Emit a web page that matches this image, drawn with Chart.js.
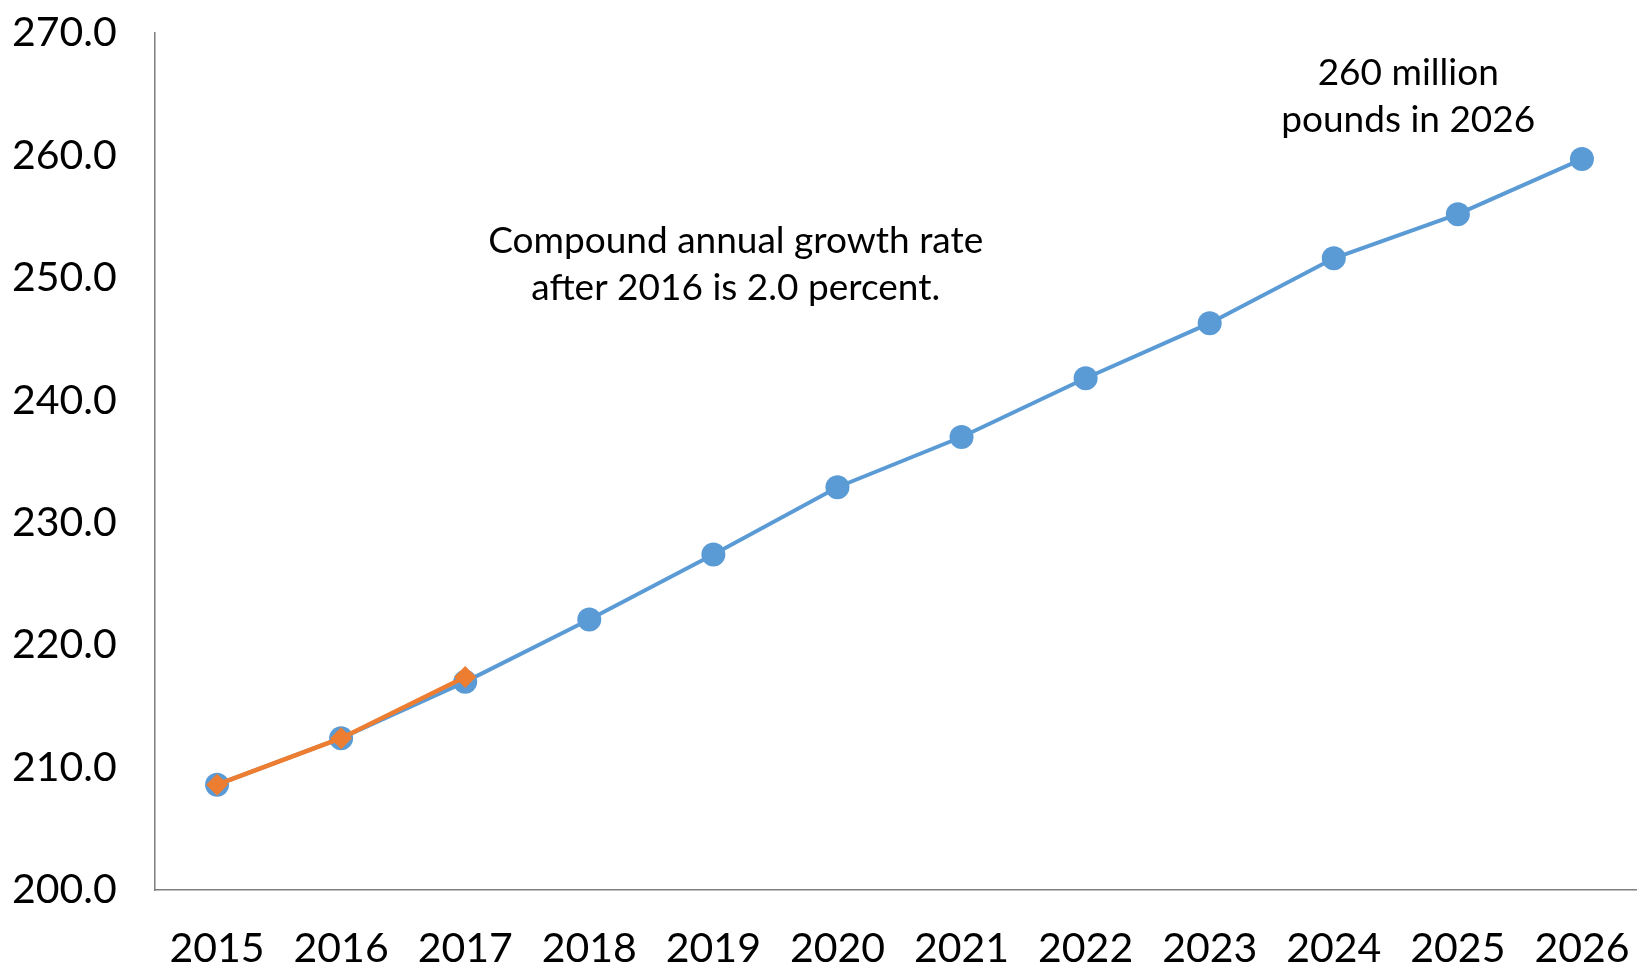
<!DOCTYPE html>
<html>
<head>
<meta charset="utf-8">
<script src="https://cdn.jsdelivr.net/npm/chart.js@4/dist/chart.umd.min.js"></script>
<style>
  html, body { margin: 0; padding: 0; background: #fff; overflow: hidden; }
  #wrap { width: 1664px; height: 966px; position: relative; }
</style>
</head>
<body>
<div id="wrap"><canvas id="chart"></canvas></div>
<script>
var years = ['2015', '2016', '2017', '2018', '2019', '2020', '2021', '2022', '2023', '2024', '2025', '2026'];
var projected = [208.6, 212.4, 217.0, 222.1, 227.4, 232.9, 237.0, 241.8, 246.3, 251.6, 255.2, 259.7];
var actual = [208.6, 212.4, 217.4, null, null, null, null, null, null, null, null, null];
var yMin = 200, yMax = 270, yStep = 10;

// notes placed in data units (x = category index, y = value at the text centre)
var notes = [
    { x: 4.18, y: 251.1, lines: ['Compound annual growth rate', 'after 2016 is 2.0 percent.'] },
    { x: 9.6, y: 264.8, lines: ['260 million', 'pounds in 2026'] }
];

var notesPlugin = {
    id: 'notes',
    afterDraw: function (chart) {
        var ctx = chart.ctx;
        var xs = chart.scales.x, ys = chart.scales.y;
        ctx.save();
        ctx.font = '37px Lato';
        ctx.fillStyle = '#000';
        ctx.textAlign = 'center';
        ctx.textBaseline = 'middle';
        notes.forEach(function (n) {
            var cx = xs.getPixelForValue(n.x);
            var cy = ys.getPixelForValue(n.y);
            var lh = 47;
            var top = cy - (n.lines.length - 1) * lh / 2;
            n.lines.forEach(function (t, i) {
                ctx.fillText(t, cx, top + i * lh);
            });
        });
        ctx.restore();
    }
};

var chart = new Chart(document.getElementById('chart'), {
    type: 'line',
    data: {
        labels: years,
        datasets: [
            {
                label: 'Projected',
                data: projected,
                borderColor: '#5B9BD5',
                backgroundColor: '#5B9BD5',
                borderWidth: 4,
                pointRadius: 12,
                pointStyle: 'circle',
                pointBorderWidth: 0,
                tension: 0,
                order: 2
            },
            {
                label: 'Actual',
                data: actual,
                borderColor: '#ED7D31',
                backgroundColor: '#ED7D31',
                borderWidth: 4.5,
                pointRadius: 11,
                pointStyle: 'rectRot',
                pointBorderWidth: 0,
                tension: 0,
                spanGaps: false,
                order: 1
            }
        ]
    },
    options: {
        responsive: true,
        maintainAspectRatio: false,
        animation: false,
        layout: { padding: { top: 33, right: 4, left: 12, bottom: 0 } },
        plugins: {
            legend: { display: false },
            tooltip: { enabled: false }
        },
        scales: {
            x: {
                offset: true,
                grid: { display: false, drawTicks: false },
                border: { display: true, color: '#7f7f7f', width: 1.5 },
                ticks: {
                    color: '#000',
                    font: { family: 'Lato', size: 41 },
                    padding: 34,
                    maxRotation: 0,
                    autoSkip: false
                },
                afterFit: function (scale) { scale.height = 76; }
            },
            y: {
                min: yMin,
                max: yMax,
                grid: { display: false, drawTicks: false },
                border: { display: true, color: '#7f7f7f', width: 1.5 },
                ticks: {
                    stepSize: yStep,
                    color: '#000',
                    font: { family: 'Lato', size: 41 },
                    padding: 0,
                    crossAlign: 'far',
                    callback: function (v) { return v.toFixed(1); }
                },
                afterFit: function (scale) { scale.width = 143; }
            }
        }
    },
    plugins: [notesPlugin]
});
</script>
</body>
</html>
